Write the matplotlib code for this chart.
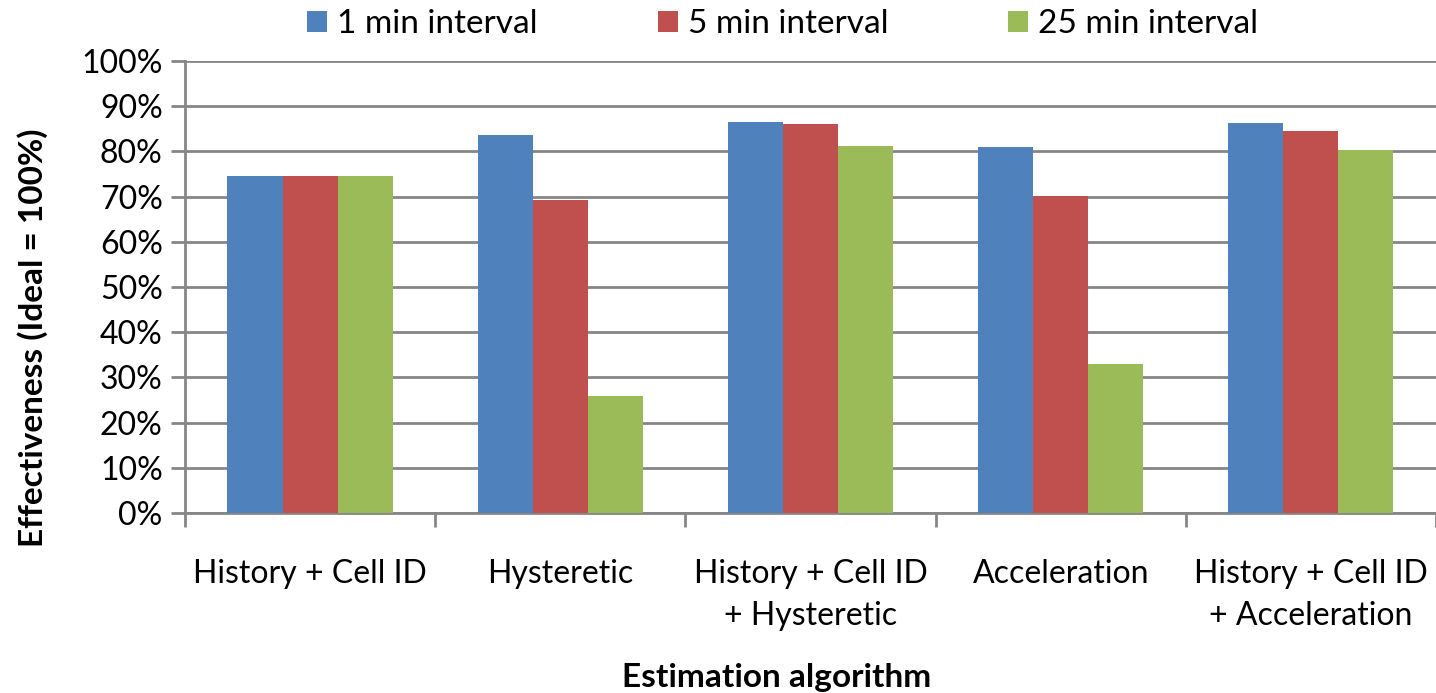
import numpy as np
import matplotlib
matplotlib.use("Agg")
import matplotlib.pyplot as plt
from matplotlib.ticker import FixedLocator, NullFormatter

plt.rcParams['font.family'] = ['Lato', 'DejaVu Sans']

# data
categories = ["History + Cell ID", "Hysteretic", "History + Cell ID\n+ Hysteretic",
              "Acceleration", "History + Cell ID\n+ Acceleration"]
series_names = ["1 min interval", "5 min interval", "25 min interval"]
one_min = [74.5, 83.6, 86.4, 81.0, 86.3]
five_min = [74.5, 69.2, 86.0, 70.2, 84.6]
twentyfive_min = [74.5, 25.8, 81.1, 32.9, 80.3]
colors = ["#4F81BD", "#C0504D", "#9BBB59"]
yticks = list(range(0, 101, 10))

fig = plt.figure(figsize=(14.36, 6.93), dpi=100)
ax = fig.add_axes([0.1288, 0.2597, 0.8712, 0.6523])

x = np.arange(len(categories))
w = 0.22
bars = []
for i, (vals, name) in enumerate(zip([one_min, five_min, twentyfive_min], series_names)):
    b = ax.bar(x + (i - 1) * w, vals, width=w, color=colors[i], label=name, zorder=3)
    bars.append(b)

ax.set_xlim(-0.5, len(categories) - 0.5)
ax.set_ylim(0, 100)
ax.set_yticks(yticks)
ax.set_yticklabels([f"{t}%" for t in yticks], fontsize=23)
ax.yaxis.grid(True, color="#868686", linewidth=2, zorder=0)
ax.tick_params(axis='y', length=10, width=2, color="#868686", pad=6)

# category boundary ticks, labels centred in between
ax.xaxis.set_major_locator(FixedLocator(np.arange(-0.5, len(categories), 1.0)))
ax.xaxis.set_major_formatter(NullFormatter())
ax.xaxis.set_minor_locator(FixedLocator(x))
ax.set_xticklabels(categories, minor=True, fontsize=23, linespacing=1.5)
ax.tick_params(axis='x', which='major', length=10, width=2, color="#868686")
ax.tick_params(axis='x', which='minor', length=0, pad=33)

for s in ["top", "right"]:
    ax.spines[s].set_visible(False)
for s in ["left", "bottom"]:
    ax.spines[s].set_color("#868686")
    ax.spines[s].set_linewidth(2)

fig.text(0.023, 0.513, "Effectiveness (Ideal = 100%)", rotation=90, fontsize=24,
         fontweight="bold", ha="center", va="center")
fig.text(0.541, 0.022, "Estimation algorithm", fontsize=24, fontweight="bold",
         ha="center", va="center")

fig.legend(handles=bars, labels=series_names, loc="center", bbox_to_anchor=(0.545, 0.965),
           ncol=3, frameon=False, fontsize=24, handlelength=0.6, handleheight=0.6,
           handletextpad=0.3, columnspacing=3.6)

fig.savefig("out.png", dpi=100)
